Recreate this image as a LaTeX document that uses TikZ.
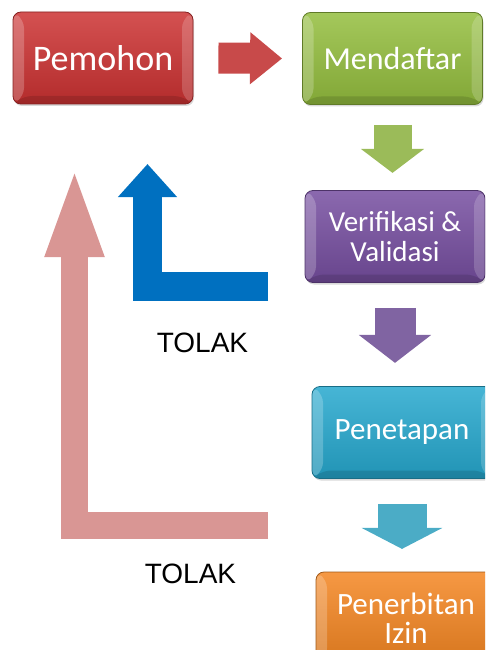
\documentclass[tikz,border=0pt]{standalone}
\usepackage{fontspec}
\setmainfont{Carlito}
\newfontfamily\labelfont{Liberation Sans}
\usetikzlibrary{arrows.meta, positioning, calc, shadows}

\definecolor{stepred}{RGB}{204,50,50}
\definecolor{stepgreen}{RGB}{148,190,62}
\definecolor{steppurple}{RGB}{118,78,160}
\definecolor{stepcyan}{RGB}{38,168,206}
\definecolor{steporange}{RGB}{244,134,34}
\definecolor{arrred}{RGB}{200,74,74}
\definecolor{arrgreen}{RGB}{155,187,89}
\definecolor{arrpurple}{RGB}{128,100,162}
\definecolor{arrcyan}{RGB}{75,172,198}
\definecolor{rejectblue}{RGB}{0,112,192}
\definecolor{rejectpink}{RGB}{217,150,148}

\begin{document}
\begin{tikzpicture}[
    x=1pt, y=-1pt,
    stage/.style={rectangle, rounded corners=8pt, minimum width=180pt, minimum height=92pt,
      inner sep=0, align=center, text=white, draw=#1!65!black, thick,
      top color=#1!85!white, bottom color=#1!88!black,
      drop shadow={opacity=0.3, shadow xshift=1pt, shadow yshift=-2pt},
      path picture={
        \fill[white, opacity=0.22] (path picture bounding box.north west)
          -- ([xshift=11pt, yshift=-8pt]path picture bounding box.north west)
          -- ([xshift=11pt, yshift=8pt]path picture bounding box.south west)
          -- (path picture bounding box.south west) -- cycle;
        \fill[white, opacity=0.18] (path picture bounding box.north east)
          -- ([xshift=-11pt, yshift=-8pt]path picture bounding box.north east)
          -- ([xshift=-11pt, yshift=8pt]path picture bounding box.south east)
          -- (path picture bounding box.south east) -- cycle;
        \fill[black, opacity=0.12] (path picture bounding box.south west)
          -- ([xshift=11pt, yshift=8pt]path picture bounding box.south west)
          -- ([xshift=-11pt, yshift=8pt]path picture bounding box.south east)
          -- (path picture bounding box.south east) -- cycle;
      }},
    flow/.style n args={3}{line width=#1pt, -{Triangle[length=#2pt, width=#3pt]}},
    tolak/.style={font=\labelfont\fontsize{28}{30}\selectfont, text=black}
]
  \clip (0,0) rectangle (485,650);

  % Steps
  \node[stage=stepred, font=\fontsize{36}{36}\selectfont] (pemohon) at (103,58) {Pemohon};
  \node[stage=stepgreen, font=\fontsize{32}{32}\selectfont] (mendaftar) at (392.5,58.5) {Mendaftar};
  \node[stage=steppurple, font=\fontsize{29}{30}\selectfont] (verif) at (395,236.5) {Verifikasi \&\\Validasi};
  \node[stage=stepcyan, font=\fontsize{31}{31}\selectfont] (penet) at (402,432.5) {Penetapan};
  \node[stage=steporange, font=\fontsize{31}{29}\selectfont] (terbit) at (406,618) {Penerbitan\\Izin};

  % Flow arrows
  \draw[flow={31}{32}{50}, arrred] ([xshift=25pt]pemohon.east) -- ([xshift=-20pt]mendaftar.west);
  \draw[flow={38}{24}{62}, arrgreen] ([yshift=-20pt]mendaftar.south) -- ++(0,48);
  \draw[flow={41}{28}{71}, arrpurple] ([yshift=-25pt]verif.south) -- ++(0,55);
  \draw[flow={49}{21}{80}, arrcyan] ([yshift=-25pt]penet.south) -- ++(0,45);

  % Rejections
  \coordinate (back1) at (268,286);
  \coordinate (back2) at (268,525.5);
  \draw[flow={29}{33}{57}, rejectblue] (back1) -| (147.5,164);
  \draw[flow={27}{92}{52}, rejectpink] (back2) -| (74.5,165);
  \node[tolak] (tolak1) at (202.5,343) {TOLAK};
  \node[tolak] (tolak2) at (190.5,573.5) {TOLAK};
\end{tikzpicture}
\end{document}
